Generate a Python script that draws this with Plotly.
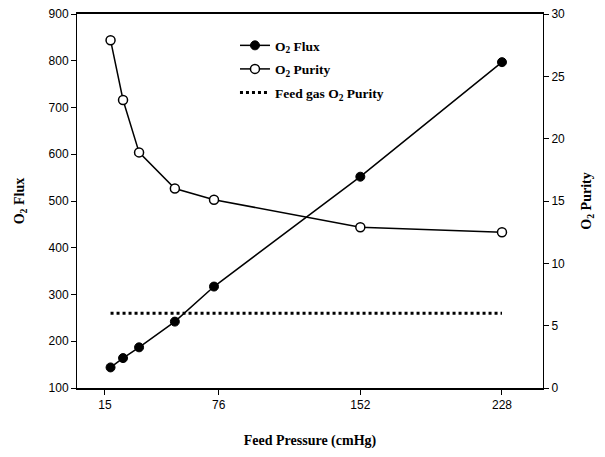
import plotly.graph_objects as go

pressure = [18, 24.7, 33.3, 52.5, 73.5, 152, 228]
o2_flux = [144, 164, 187, 242, 317, 552, 797]
o2_purity = [27.9, 23.1, 18.9, 16.0, 15.1, 12.9, 12.5]
feed_x = [18, 228]
feed_purity = [6, 6]
x_ticks = [15, 76, 152, 228]

serif = "Liberation Serif, Times New Roman, serif"
sans = "Liberation Sans, Arial, sans-serif"

fig = go.Figure()
fig.add_trace(go.Scatter(
    x=pressure, y=o2_flux, name="<b>O<sub>2</sub> Flux</b>", mode="lines+markers",
    legendgroup="a",
    line=dict(color="black", width=1.5),
    marker=dict(symbol="circle", size=9, color="black", line=dict(color="black", width=1)),
))
fig.add_trace(go.Scatter(
    x=pressure, y=o2_purity, name="<b>O<sub>2</sub> Purity</b>", mode="lines+markers", yaxis="y2",
    legendgroup="b",
    line=dict(color="black", width=1.5),
    marker=dict(symbol="circle", size=9, color="white", line=dict(color="black", width=1.5)),
))
fig.add_trace(go.Scatter(
    x=feed_x, y=feed_purity, name="<b>Feed gas O<sub>2</sub> Purity</b>", mode="lines", yaxis="y2",
    legendgroup="c",
    line=dict(color="black", width=3, dash="dot"),
))

# the page adds an 8px body margin, so the figure is sized to fit inside it
fig.update_layout(
    width=589, height=441,
    margin=dict(l=69, r=54, t=6, b=61),
    paper_bgcolor="white", plot_bgcolor="white",
    showlegend=True,
    legend=dict(x=0.339, y=0.957, xanchor="left", yanchor="top",
                bgcolor="rgba(0,0,0,0)", font=dict(family=serif, size=13.5, color="black"),
                tracegroupgap=3, itemwidth=30),
    xaxis=dict(range=[0, 250], tickvals=x_ticks, ticktext=[str(v) for v in x_ticks],
               automargin=False, ticklabeloverflow="allow",
               showline=True, linecolor="black", linewidth=2, mirror=True,
               ticks="outside", ticklen=5, tickwidth=1, tickcolor="black",
               showgrid=False, zeroline=False,
               tickfont=dict(family=sans, size=12, color="black"),
               title=dict(text="<b>Feed Pressure (cmHg)</b>", standoff=24,
                          font=dict(family=serif, size=14, color="black"))),
    yaxis=dict(range=[100, 900], dtick=100, automargin=False, ticklabeloverflow="allow",
               showline=True, linecolor="black", linewidth=1,
               ticks="outside", ticklen=5, tickwidth=1, tickcolor="black",
               showgrid=False, zeroline=False,
               tickfont=dict(family=sans, size=12, color="black"),
               title=dict(text="<b>O<sub>2</sub> Flux</b>", standoff=20,
                          font=dict(family=serif, size=14, color="black"))),
    yaxis2=dict(range=[0, 30], dtick=5, overlaying="y", side="right", automargin=False,
                ticklabeloverflow="allow",
                showline=True, linecolor="black", linewidth=1,
                ticks="outside", ticklen=5, tickwidth=1, tickcolor="black",
                showgrid=False, zeroline=False,
                tickfont=dict(family=sans, size=12, color="black"),
                title=dict(text="<b>O<sub>2</sub> Purity</b>", standoff=17,
                           font=dict(family=serif, size=14, color="black"))),
)

fig.write_html("out.html")
